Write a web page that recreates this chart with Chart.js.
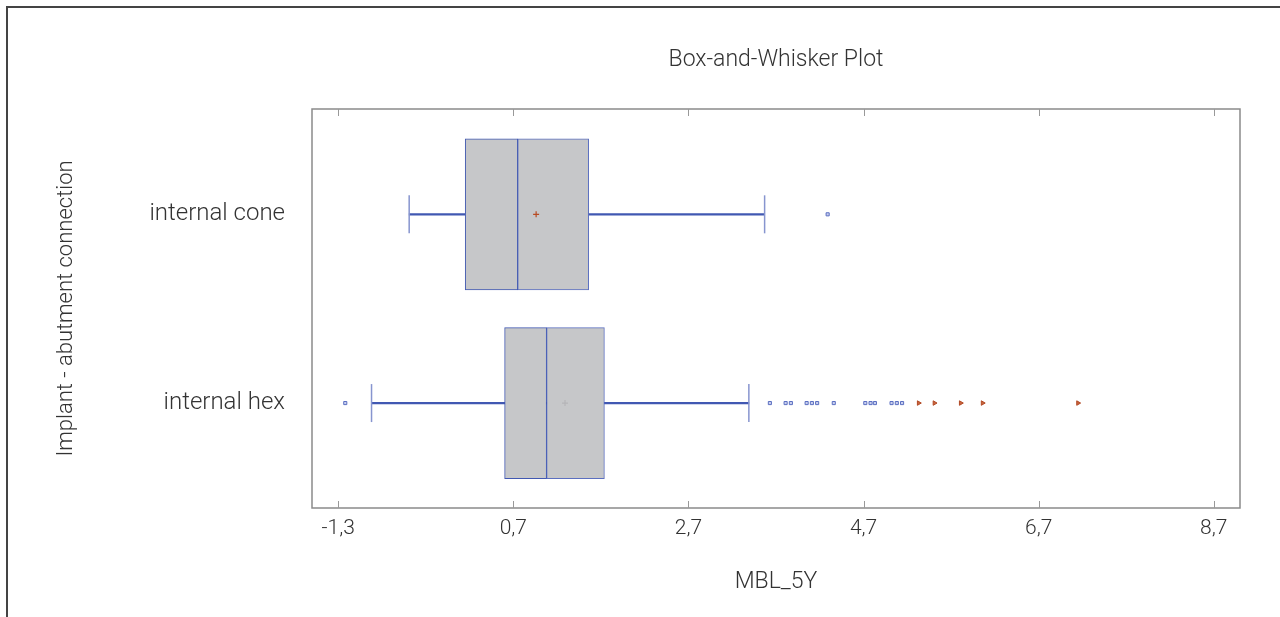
<!DOCTYPE html>
<html>
<head>
<meta charset="utf-8">
<script src="https://cdn.jsdelivr.net/npm/chart.js@4"></script>
<style>
    html, body { margin: 0; padding: 0; background: #fff; }
    #wrap { position: relative; width: 1280px; height: 617px; overflow: hidden; }
    #frame {
        position: absolute; left: 6px; top: 6px; width: 1300px; height: 640px;
        border-left: 2px solid #444; border-top: 2px solid #444; pointer-events: none;
    }
</style>
</head>
<body>
<div id="wrap">
    <canvas id="box-chart" width="1280" height="617"></canvas>
    <div id="frame"></div>
</div>
<script>
// Box-and-whisker data (MBL_5Y)

const categories = ['internal cone', 'internal hex'];
const rowPos = [1, 2];
const whiskerLow = [-0.49, -0.92];
const q1 = [0.15, 0.60];
const median = [0.75, 1.08];
const q3 = [1.56, 1.74];
const whiskerHigh = [3.57, 3.39];
const means = [0.96, 1.29];

const coneOutliers = [4.29];
const hexOutliersLow = [-1.22];
const hexOutliers = [3.63, 3.81, 3.87, 4.05, 4.11, 4.17, 4.36, 4.72, 4.78, 4.83, 5.02, 5.08, 5.14];
const hexFarOutliers = [5.33, 5.51, 5.81, 6.06, 7.15];

const xTicks = [-1.3, 0.7, 2.7, 4.7, 6.7, 8.7];

const BLUE = '#4158b2';
const FONT = { family: 'Roboto, "Liberation Sans", sans-serif', weight: 300 };

function fmt(v) {
    return v.toFixed(1).replace('.', ',');
}

function pts(values, row) {
    return values.map(v => ({ x: v, y: row }));
}

// frame, inside tick marks
const framePlugin = {
    id: 'framePlugin',
    afterDraw(chart) {
        const { ctx, chartArea: a } = chart;
        const xs = chart.scales.x;
        ctx.save();
        ctx.strokeStyle = '#8a8a8a';
        ctx.lineWidth = 1.5;
        ctx.strokeRect(a.left, a.top, a.right - a.left, a.bottom - a.top);
        ctx.lineWidth = 1;
        ctx.strokeStyle = '#999';
        xTicks.forEach(v => {
            const px = Math.round(xs.getPixelForValue(v)) + 0.5;
            ctx.beginPath();
            ctx.moveTo(px, a.bottom);
            ctx.lineTo(px, a.bottom - 7);
            ctx.moveTo(px, a.top);
            ctx.lineTo(px, a.top + 7);
            ctx.stroke();
        });
        ctx.restore();
    }
};

const boxLeft = categories.map((c, i) => ({ y: rowPos[i], x: [q1[i], median[i]] }));
const boxRight = categories.map((c, i) => ({ y: rowPos[i], x: [median[i], q3[i]] }));
const whiskers = categories.map((c, i) => ({ y: rowPos[i], x: [whiskerLow[i], whiskerHigh[i]] }));
const caps = categories.flatMap((c, i) => [
    { x: whiskerLow[i], y: rowPos[i] },
    { x: whiskerHigh[i], y: rowPos[i] }
]);
const meanPts = categories.map((c, i) => ({ x: means[i], y: rowPos[i] }));

const chart = new Chart(document.getElementById('box-chart'), {
    type: 'bar',
    data: {
        datasets: [
            {
                type: 'bar', data: whiskers, order: 5,
                backgroundColor: BLUE, borderWidth: 0,
                barThickness: 1.5, grouped: false
            },
            {
                type: 'scatter', data: caps, order: 4,
                pointStyle: 'line', rotation: 90, radius: 19,
                borderColor: '#8795cf', borderWidth: 1.5
            },
            {
                type: 'bar', data: boxLeft, order: 3,
                backgroundColor: '#c6c7c9', borderColor: BLUE, borderWidth: 1,
                borderSkipped: false, barThickness: 151, grouped: false
            },
            {
                type: 'bar', data: boxRight, order: 3,
                backgroundColor: '#c6c7c9', borderColor: '#5b6fc0', borderWidth: 1,
                borderSkipped: false, barThickness: 151, grouped: false
            },
            {
                type: 'scatter', data: meanPts, order: 1,
                pointStyle: 'cross', radius: 3, borderWidth: 1.2,
                borderColor: ['#b84a22', '#b5b5b8']
            },
            {
                type: 'scatter',
                data: pts(coneOutliers, rowPos[0]).concat(pts(hexOutliersLow, rowPos[1]), pts(hexOutliers, rowPos[1])),
                order: 1, pointStyle: 'rect', radius: 2.2, borderWidth: 1,
                borderColor: '#5c70c2', backgroundColor: '#c9cfee'
            },
            {
                type: 'scatter', data: pts(hexFarOutliers, rowPos[1]), order: 1,
                pointStyle: 'triangle', rotation: 90, radius: 2.6, borderWidth: 1,
                borderColor: '#b24a26', backgroundColor: '#c8643c'
            }
        ]
    },
    options: {
        indexAxis: 'y',
        responsive: false,
        animation: false,
        devicePixelRatio: 1,
        layout: { padding: { left: 0, right: 40, top: 0, bottom: 0 } },
        plugins: {
            legend: { display: false },
            tooltip: { enabled: false },
            title: {
                display: true,
                fullSize: false,
                text: 'Box-and-Whisker Plot',
                color: '#333',
                font: { ...FONT, size: 23 },
                padding: { top: 46.2, bottom: 35.2 }
            }
        },
        scales: {
            x: {
                type: 'linear',
                position: 'bottom',
                min: -1.6,
                max: 9.0,
                afterBuildTicks: scale => { scale.ticks = xTicks.map(v => ({ value: v })); },
                afterFit: scale => { scale.height = 109; },
                grid: { display: false, drawTicks: false },
                border: { display: false },
                ticks: {
                    padding: 8.5,
                    color: '#333',
                    font: { ...FONT, size: 21 },
                    callback: v => fmt(v)
                },
                title: {
                    display: true,
                    text: 'MBL_5Y',
                    color: '#333',
                    font: { ...FONT, size: 23 },
                    padding: { top: 0, bottom: 21 }
                }
            },
            y: {
                type: 'linear',
                reverse: true,
                offset: false,
                min: 0.442,
                max: 2.556,
                afterBuildTicks: scale => { scale.ticks = rowPos.map(v => ({ value: v })); },
                afterFit: scale => { scale.width = 312; },
                grid: { display: false, drawTicks: false, offset: false },
                border: { display: false },
                ticks: {
                    padding: 27,
                    color: '#333',
                    font: { ...FONT, size: 24 },
                    callback: v => categories[rowPos.indexOf(v)] || ''
                },
                title: {
                    display: true,
                    text: 'Implant - abutment connection',
                    color: '#333',
                    font: { ...FONT, size: 22 },
                    padding: { top: 53, bottom: 0 }
                }
            }
        }
    },
    plugins: [framePlugin]
});
</script>
</body>
</html>
